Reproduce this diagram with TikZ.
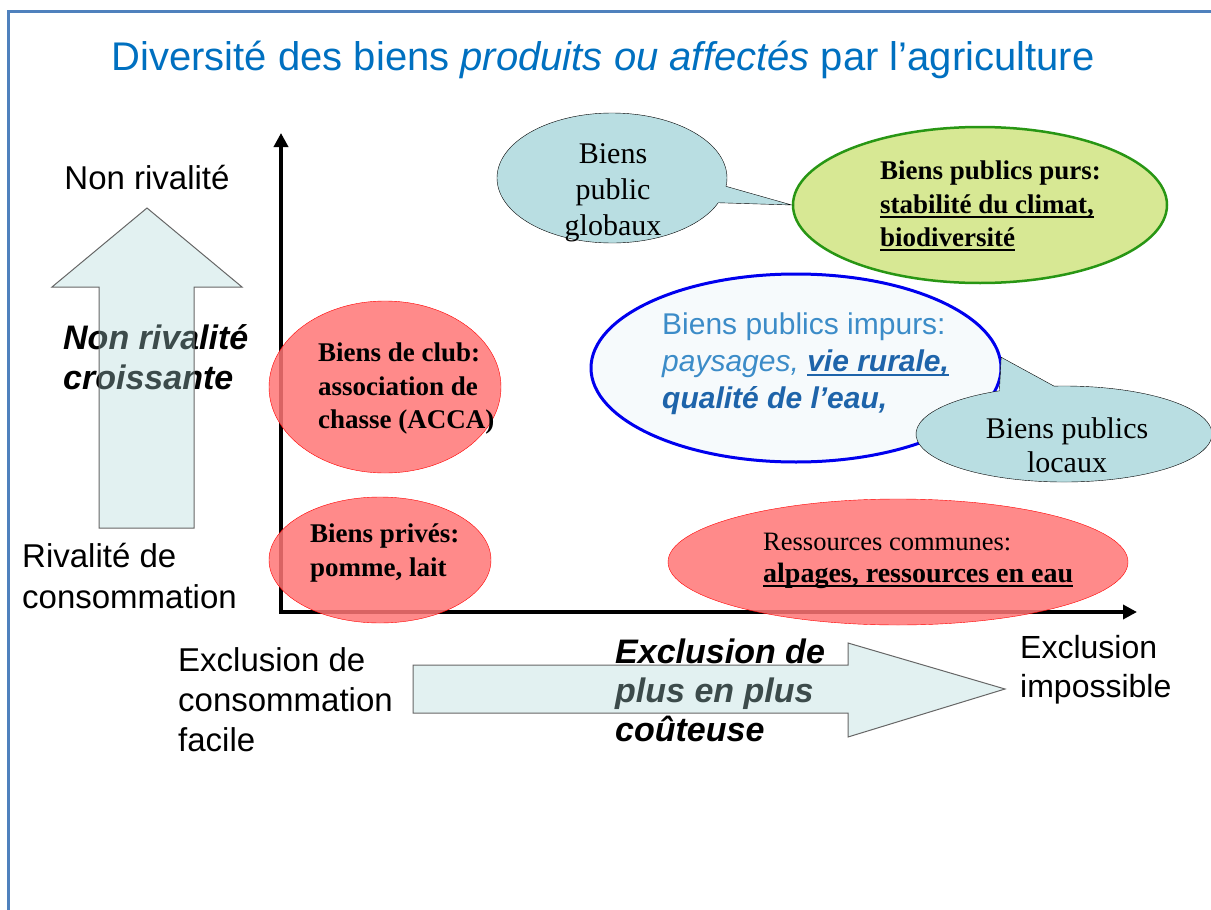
\documentclass[tikz,border=0pt]{standalone}
\usepackage{fontspec}
\setmainfont{Liberation Serif}
\setsansfont{Liberation Sans}
\usetikzlibrary{arrows.meta,shapes.geometric,shapes.callouts}
\newsavebox{\boitesoul}
\newcommand{\souligne}[1]{\sbox{\boitesoul}{#1}\leavevmode\rlap{\rule[-4.5pt]{\wd\boitesoul}{2pt}}\usebox{\boitesoul}}
\definecolor{cadre}{RGB}{79,129,189}
\definecolor{titre}{RGB}{0,112,192}
\definecolor{rouge}{RGB}{255,117,117}
\definecolor{vert}{RGB}{215,232,148}
\definecolor{vertfonce}{RGB}{40,150,20}
\definecolor{bleubulle}{RGB}{185,222,226}
\definecolor{bleupale}{RGB}{246,250,252}
\definecolor{bleuvif}{RGB}{0,0,238}
\definecolor{bleutexte}{RGB}{60,140,200}
\definecolor{bleufonce}{RGB}{30,100,170}
\definecolor{fleche}{RGB}{172,215,215}
\tikzset{
  grand/.style={font=\sffamily\fontsize{33}{41}\selectfont, inner sep=0pt, align=left},
  gras/.style={font=\sffamily\bfseries\itshape\fontsize{34}{40}\selectfont, inner sep=0pt, align=left},
  times/.style={font=\bfseries\fontsize{27}{33.5}\selectfont, inner sep=0pt, align=left},
  bien/.style={ellipse, draw=red, fill=rouge, fill opacity=0.85, inner sep=0pt},
  bulle/.style={ellipse callout, draw=black, fill=bleubulle, inner sep=0pt},
  blocfleche/.style={draw=black!60, fill=fleche, fill opacity=0.35, line width=1pt},
  axe/.style={line width=3.5pt, line join=miter, {Triangle[length=14pt,width=14pt]}-{Triangle[length=14pt,width=14pt]}}
}
\begin{document}
\begin{tikzpicture}[x=1pt,y=-1pt]
  \useasboundingbox (0,0) rectangle (1211,910);
  \draw[cadre, line width=3pt] (8,910) -- (8,11) -- (1211,11);
  \node[font=\sffamily\fontsize{40}{46}\selectfont, text=titre] (titre) at (603,60) {Diversité des biens \textit{produits ou affectés} par l'agriculture};

  \coordinate (origine) at (281,612);
  \coordinate (haut) at (281,133);
  \coordinate (droite) at (1137,612);
  \draw[axe] (haut) -- (origine) -- (droite);

  \node[grand, align=center] (nonriv) at (147,178) {Non rivalité};
  \node[gras, anchor=west] (croiss) at (63,357) {Non rivalité\\croissante};
  \draw[blocfleche] (99,528) -- (99,287) -- (52,287) -- (147,208) -- (242,287) -- (194,287) -- (194,528) -- cycle;
  \node[grand, anchor=west] (rival) at (22,576) {Rivalité de\\consommation};

  \node[grand, anchor=west, font=\sffamily\fontsize{33}{40}\selectfont] (facile) at (178,700) {Exclusion de\\consommation\\facile};
  \node[gras, anchor=west, font=\sffamily\bfseries\itshape\fontsize{34}{39}\selectfont] (couteuse) at (615,690) {Exclusion de\\plus en plus\\coûteuse};
  \draw[blocfleche] (413,665) -- (848,665) -- (848,643) -- (1005,689) -- (848,737) -- (848,713) -- (413,713) -- cycle;
  \node[grand, anchor=west, font=\sffamily\fontsize{32}{39}\selectfont] (imposs) at (1020,670) {Exclusion\\impossible};

  \node[bien, minimum width=232pt, minimum height=172pt] (club) at (385,387) {};
  \node[times, anchor=west] (clubtxt) at (318,389) {Biens de club:\\association de\\chasse (ACCA)};
  \node[bien, minimum width=222pt, minimum height=126pt] (prive) at (380,560) {};
  \node[times, anchor=west] (privetxt) at (310,553) {Biens privés:\\pomme, lait};
  \node[bien, minimum width=460pt, minimum height=126pt] (communes) at (898,562) {};
  \node[times, anchor=west, font=\bfseries\fontsize{26.5}{32}\selectfont] (communestxt) at (763,561) {\mdseries Ressources communes:\\\fontsize{28}{32}\selectfont\souligne{alpages, ressources en eau}};

  \node[ellipse, draw=vertfonce, line width=2.5pt, fill=vert, minimum width=374pt, minimum height=156pt] (purs) at (980,205) {};
  \node[times, anchor=west] (purstxt) at (880,206) {Biens publics purs:\\\souligne{stabilité du climat,}\\\souligne{biodiversité}};
  \node[bulle, minimum width=230pt, minimum height=130pt, callout absolute pointer={(purs.west)}] (globaux) at (612,178) {};
  \node[font=\fontsize{30}{36}\selectfont, align=center, inner sep=0pt] (globauxtxt) at (613,193) {Biens\\public\\globaux};

  \node[ellipse, draw=bleuvif, line width=3pt, fill=bleupale, minimum width=410pt, minimum height=188pt] (impurs) at (796,368) {};
  \node[anchor=west, font=\sffamily\fontsize{30}{37}\selectfont, text=bleutexte, align=left, inner sep=0pt] (impurstxt) at (662,364) {Biens publics impurs:\\\textit{paysages,} \textcolor{bleufonce}{\bfseries\itshape\souligne{vie rurale,}}\\\textcolor{bleufonce}{\bfseries\itshape qualité de l'eau,}};
  \node[bulle, minimum width=296pt, minimum height=96pt, callout pointer arc=22, callout absolute pointer={(impurs.3)}] (locaux) at (1064,434) {};
  \node[font=\fontsize{30}{34}\selectfont, align=center, inner sep=0pt] (locauxtxt) at (1067,445) {Biens publics\\locaux};
\end{tikzpicture}
\end{document}
